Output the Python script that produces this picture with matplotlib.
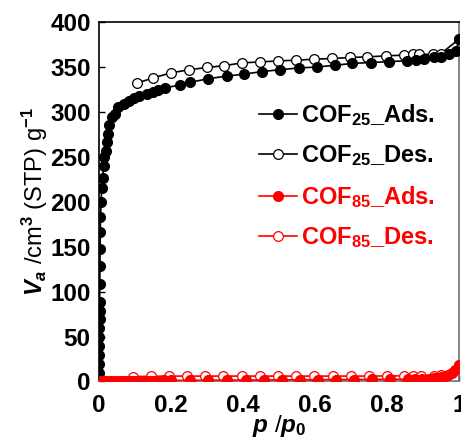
import matplotlib
matplotlib.use("Agg")
import matplotlib.pyplot as plt

plt.rcParams['font.family'] = ['Liberation Sans', 'DejaVu Sans']
plt.rcParams['font.weight'] = 'bold'
plt.rcParams['mathtext.fontset'] = 'custom'
plt.rcParams['mathtext.rm'] = 'Liberation Sans:bold'
plt.rcParams['mathtext.it'] = 'Liberation Sans:bold:italic'
plt.rcParams['mathtext.bf'] = 'Liberation Sans:bold'

# COF25 adsorption
p25_ads = [0.0002, 0.0004, 0.0006, 0.0008, 0.0010, 0.0012, 0.0014, 0.0016, 0.0018, 0.0022,
           0.0026, 0.0030, 0.0036, 0.004, 0.006, 0.007, 0.010, 0.013, 0.015, 0.018,
           0.021, 0.026, 0.027, 0.035, 0.045, 0.054, 0.068, 0.082, 0.096, 0.11,
           0.133, 0.151, 0.165, 0.184, 0.226, 0.253, 0.304, 0.356, 0.402, 0.453,
           0.504, 0.555, 0.606, 0.655, 0.704, 0.755, 0.806, 0.855, 0.88, 0.903,
           0.93, 0.95, 0.973, 0.992, 1.0]
v25_ads = [9, 19, 29, 39, 49, 59, 69, 79, 89, 109,
           129, 148, 166, 183, 200, 215, 226, 240, 250, 257,
           267, 276, 285, 294, 298, 305, 309, 312, 315, 318,
           320, 322, 324, 327, 330, 333, 337, 340, 342, 345,
           347, 349, 350, 352, 354, 355, 356, 357, 358, 359,
           361, 361, 364, 368, 381]

# COF25 desorption
p25_des = [0.105, 0.151, 0.2, 0.251, 0.3, 0.348, 0.397, 0.448, 0.498, 0.548,
           0.597, 0.648, 0.697, 0.745, 0.797, 0.846, 0.871, 0.89, 0.927, 0.95, 1.0]
v25_des = [332, 338, 343.5, 347, 349.5, 351.5, 354.6, 355.7, 356.8, 357.6,
           358.7, 359.5, 360.6, 361.3, 362.4, 363.2, 364, 364, 364.3, 365, 381]

# COF85 adsorption
p85_ads = [0.002, 0.01, 0.02, 0.03, 0.04, 0.05, 0.06, 0.07, 0.08, 0.09, 0.10, 0.11,
           0.12, 0.13, 0.14, 0.15, 0.16, 0.18, 0.20, 0.253, 0.304, 0.356, 0.407, 0.457,
           0.507, 0.557, 0.607, 0.657, 0.707, 0.757, 0.807, 0.857, 0.877, 0.897,
           0.917, 0.93, 0.94, 0.95, 0.96, 0.97, 0.98, 0.99, 1.0]
v85_ads = [0.6, 0.7, 0.7, 0.8, 0.8, 0.8, 0.9, 0.9, 0.9, 1.0, 1.0, 1.0,
           1.0, 1.1, 1.1, 1.1, 1.1, 1.2, 1.2, 1.3, 1.4, 1.5, 1.6, 1.7,
           1.8, 1.9, 2.0, 2.1, 2.2, 2.3, 2.4, 2.5, 2.7, 2.9,
           3.2, 3.6, 4.2, 5.0, 6.0, 7.2, 9.5, 13.0, 18.5]

# COF85 desorption
p85_des = [0.095, 0.145, 0.195, 0.245, 0.295, 0.345, 0.398, 0.448, 0.496, 0.546,
           0.596, 0.649, 0.699, 0.749, 0.8, 0.847, 0.872, 0.894, 0.93, 0.95, 1.0]
v85_des = [5.5, 5.8, 6.0, 6.0, 6.0, 6.0, 6.0, 6.0, 6.0, 6.0,
           6.0, 6.0, 6.0, 6.0, 6.2, 6.2, 6.3, 6.3, 6.6, 7.0, 18.5]

fig = plt.figure(figsize=(4.61, 4.42), dpi=100)
ax = fig.add_axes([0.2148, 0.1369, 0.7809, 0.8131])

ms = 7.0
lw = 1.2
ax.plot(p25_des, v25_des, '-o', color='black', mfc='white', mec='black', ms=ms, mew=0.9, lw=lw,
        label='COF$_{25}$_Des.', zorder=3)
ax.plot(p25_ads, v25_ads, '-o', color='black', ms=ms, lw=lw, label='COF$_{25}$_Ads.', zorder=4)
ax.plot(p85_des, v85_des, '-o', color='red', mfc='white', mec='red', ms=ms, mew=0.9, lw=lw,
        label='COF$_{85}$_Des.', zorder=3)
ax.plot(p85_ads, v85_ads, '-o', color='red', ms=ms, lw=lw, label='COF$_{85}$_Ads.', zorder=4)

ax.set_xlim(0, 1)
ax.set_ylim(0, 400)
ax.set_xticks([0, 0.2, 0.4, 0.6, 0.8, 1.0])
ax.set_xticklabels(['0', '0.2', '0.4', '0.6', '0.8', '1'])
ax.set_yticks(range(0, 401, 50))
ax.tick_params(direction='in', length=4, width=1, labelsize=17.5, pad=6)
ax.tick_params(axis='x', pad=9)
for s in ['left', 'top']:
    ax.spines[s].set_color('black')
for s in ['right', 'bottom']:
    ax.spines[s].set_color('#707070')
for s in ax.spines.values():
    s.set_linewidth(1.2)

ax.set_xlabel('$p$ /$p_0$', fontsize=17.5, labelpad=-3)
ax.set_ylabel('$V_a$ /cm$^3$ (STP) g$^{-1}$', fontsize=17, labelpad=0)

h, l = ax.get_legend_handles_labels()
order = [1, 0, 3, 2]
leg = ax.legend([h[i] for i in order], [l[i] for i in order], loc='upper left',
                bbox_to_anchor=(0.444, 0.778), frameon=False, fontsize=17,
                handlelength=1.6, handletextpad=0.2, labelspacing=0.66,
                borderaxespad=0.0, borderpad=0.0)
for txt, c in zip(leg.get_texts(), ['black', 'black', 'red', 'red']):
    txt.set_color(c)

fig.savefig('out.png', dpi=100)
